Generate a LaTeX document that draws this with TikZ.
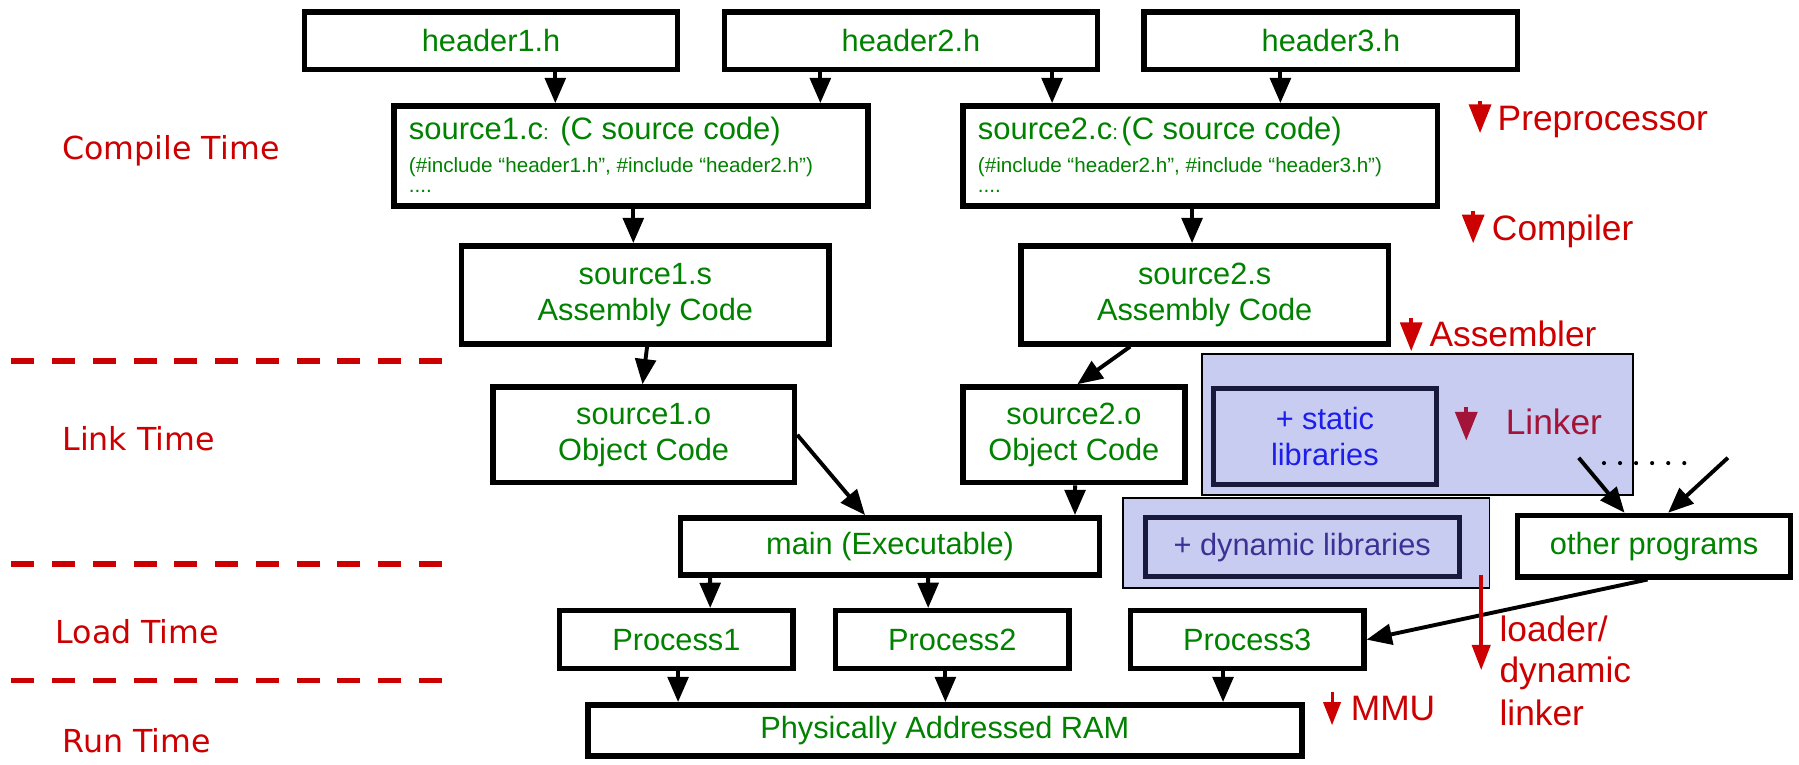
\documentclass[tikz,border=0pt]{standalone}
\usepackage{fontspec}
\setmainfont{Liberation Sans}
\newfontfamily\phasefont{DejaVu Sans}
\usetikzlibrary{arrows.meta}

\definecolor{codegreen}{RGB}{0,130,0}
\definecolor{phasered}{RGB}{204,0,0}
\definecolor{lavender}{RGB}{200,204,240}
\definecolor{staticblue}{RGB}{30,30,235}
\definecolor{dynblue}{RGB}{60,50,150}
\definecolor{libnavy}{RGB}{25,25,60}
\definecolor{linkercol}{RGB}{163,21,56}

\newcommand\bxfont{\fontsize{13.4}{15.8}\selectfont}
\newcommand\tagfont{\fontsize{15.4}{18}\selectfont}
\newcommand\smallcode{\fontsize{9}{10}\selectfont}

\begin{document}
\begin{tikzpicture}[x=0.5pt,y=-0.5pt,
  box/.style={draw=black, line width=2.4pt, fill=white, inner sep=0pt,
    text=codegreen, font=\bxfont, align=center},
  codeline/.style={anchor=base west, inner sep=0pt, text=codegreen},
  conn/.style={draw=black, line width=1.7pt, -{Triangle[length=11pt,width=9pt]}},
  redarrow/.style={draw=phasered, line width=1.7pt, -{Triangle[length=12.5pt,width=9.5pt]}},
  tag/.style={anchor=base west, inner sep=0pt, text=phasered, font=\tagfont},
  phase/.style={anchor=base west, inner sep=0pt, text=phasered,
    font=\phasefont\fontsize{13.8}{16}\selectfont},
  phaseline/.style={draw=phasered, line width=2.5pt, dash pattern=on 10pt off 7.75pt},
  libarea/.style={draw=black, line width=0.75pt, fill=lavender, inner sep=0pt},
  libbox/.style={draw=libnavy, line width=2.2pt, inner sep=0pt, font=\bxfont, align=center}]

\useasboundingbox (0,0) rectangle (1568,666);

% phase separators and phase names
\draw[phaseline] (10,314.7) -- (386,314.7);
\draw[phaseline] (10,491.6) -- (386,491.6);
\draw[phaseline] (10,593) -- (386,593);
\node[phase] (tcompile) at (54,138.6) {Compile Time};
\node[phase] (tlink) at (54,393) {Link Time};
\node[phase] (tload) at (48,561) {Load Time};
\node[phase] (trun) at (54,655.6) {Run Time};

% headers
\node[box, minimum width=162.7pt, minimum height=25.2pt] (h1) at (428,35.5) {header1.h};
\node[box, minimum width=162.7pt, minimum height=25.2pt] (h2) at (794,35.5) {header2.h};
\node[box, minimum width=162.7pt, minimum height=25.2pt] (h3) at (1160,35.5) {header3.h};

% C sources
\node[box, minimum width=206.7pt, minimum height=43.7pt] (s1c) at (550,136) {};
\node[box, minimum width=206.7pt, minimum height=43.7pt] (s2c) at (1046,136) {};
\node[codeline, font=\fontsize{13.5}{16}\selectfont] (s1c-a) at (356,122)
  {source1.c{\smallcode:} (C source code)};
\node[codeline, font=\smallcode] (s1c-b) at (356,150)
  {(\#include “header1.h”, \#include “header2.h”)};
\node[codeline, font=\smallcode] (s1c-c) at (356,168) {....};
\node[codeline, font=\fontsize{13.5}{16}\selectfont] (s2c-a) at (852,122)
  {source2.c{\smallcode:}\hspace{1.5pt}(C source code)};
\node[codeline, font=\smallcode] (s2c-b) at (852,150)
  {(\#include “header2.h”, \#include “header3.h”)};
\node[codeline, font=\smallcode] (s2c-c) at (852,168) {....};

% assembly and object files
\node[box, minimum width=160.2pt, minimum height=42.7pt] (s1s) at (562.5,257) {source1.s\\Assembly Code};
\node[box, minimum width=160.2pt, minimum height=42.7pt] (s2s) at (1050,257) {source2.s\\Assembly Code};
\node[box, minimum width=131.5pt, minimum height=41.7pt] (s1o) at (561,379) {source1.o\\Object Code};
\node[box, minimum width=96.7pt, minimum height=41.7pt] (s2o) at (936,379) {source2.o\\Object Code};

% libraries
\node[libarea, minimum width=159.75pt, minimum height=39.25pt] (dynarea) at (1138.5,473) {};
\node[libarea, minimum width=187.75pt, minimum height=61.25pt] (statarea) at (1235.5,370) {};
\node[libbox, text=staticblue, minimum width=97.05pt, minimum height=41.8pt] (slib) at (1154.75,380.5) {+ static\\libraries};
\node[libbox, text=dynblue, minimum width=136.8pt, minimum height=25.8pt] (dlib) at (1135,477) {+ dynamic libraries};

% executable, programs, processes, memory
\node[box, minimum width=182.45pt, minimum height=24.95pt] (main) at (775.75,476.25) {main (Executable)};
\node[box, minimum width=118.95pt, minimum height=26.7pt] (other) at (1441.75,476) {other programs};
\node[box, minimum width=101.7pt, minimum height=25.2pt] (p1) at (589.5,557.5) {Process1};
\node[box, minimum width=101.7pt, minimum height=25.2pt] (p2) at (830,557.5) {Process2};
\node[box, minimum width=101.7pt, minimum height=25.2pt] (p3) at (1087,557.5) {Process3};
\node[box, minimum width=311.2pt, minimum height=22.2pt] (ram) at (823.5,636.5) {Physically Addressed RAM};

% build flow
\draw[conn] ([xshift=28pt]h1.south) -- ([xshift=-33pt]s1c.north);
\draw[conn] ([xshift=-39.5pt]h2.south) -- ([xshift=82.5pt]s1c.north);
\draw[conn] ([xshift=61.5pt]h2.south) -- ([xshift=-64.5pt]s2c.north);
\draw[conn] ([xshift=-22pt]h3.south) -- ([xshift=35pt]s2c.north);
\draw[conn] ([xshift=1pt]s1c.south) -- ([xshift=-5.25pt]s1s.north);
\draw[conn] ([xshift=-3.5pt]s2c.south) -- ([xshift=-5.5pt]s2s.north);
\draw[conn] ([xshift=0.75pt]s1s.south) -- ([xshift=-0.5pt]s1o.north);
\draw[conn] ([xshift=-32.5pt]s2s.south) -- ([xshift=1.5pt]s2o.north);
\draw[conn] (s1o.east) -- ([xshift=-10.9pt]main.north);
\draw[conn] ([xshift=0.5pt]s2o.south) -- ([xshift=80.6pt]main.north);
\draw[conn] ([xshift=-78.4pt]main.south) -- ([xshift=14.75pt]p1.north);
\draw[conn] ([xshift=16.6pt]main.south) -- ([xshift=-10.5pt]p2.north);
\draw[conn] ([xshift=0.75pt]p1.south) -- ([xshift=-116.25pt]ram.north);
\draw[conn] ([xshift=-3pt]p2.south) -- ([xshift=0.25pt]ram.north);
\draw[conn] ([xshift=-10.5pt]p3.south) -- ([xshift=121.25pt]ram.north);
\draw[conn] ([xshift=-2.9pt]other.south) -- (p3.east);

% other programs fed by the linker
\coordinate (feed1) at (1376,399);
\coordinate (feed2) at (1506,399);
\draw[conn] (feed1) -- ([xshift=-12.9pt]other.north);
\draw[conn] (feed2) -- ([xshift=6.1pt]other.north);
\foreach \i in {0,...,5} \fill (1398+14*\i,403.6) circle (0.9pt);

% tool stages
\coordinate (pre-a) at (1290,88);   \coordinate (pre-b) at (1290,116);
\coordinate (cmp-a) at (1284,184);  \coordinate (cmp-b) at (1284,212);
\coordinate (asm-a) at (1230,277);  \coordinate (asm-b) at (1230,306);
\coordinate (lnk-a) at (1278,355);  \coordinate (lnk-b) at (1278,384);
\coordinate (mmu-a) at (1161,603);  \coordinate (mmu-b) at (1161,632);
\coordinate (ld-a) at (1291,501);   \coordinate (ld-b) at (1291,584);
\draw[redarrow] (pre-a) -- (pre-b);
\draw[redarrow] (cmp-a) -- (cmp-b);
\draw[redarrow] (asm-a) -- (asm-b);
\draw[redarrow, draw=linkercol] (lnk-a) -- (lnk-b);
\draw[redarrow, line width=1.3pt, -{Triangle[length=10pt,width=7.5pt]}] (mmu-a) -- (mmu-b);
\draw[redarrow, line width=1.5pt, -{Triangle[length=11pt,width=8pt]}] (ld-a) -- (ld-b);
\node[tag] (tpre) at (1305,114) {Preprocessor};
\node[tag] (tcmp) at (1300,210) {Compiler};
\node[tag] (tasm) at (1245.6,302) {Assembler};
\node[tag, text=linkercol] (tlnk) at (1312,379) {Linker};
\node[tag] (tmmu) at (1177,627.6) {MMU};
\node[tag] (tld1) at (1306.6,559.5) {loader/};
\node[tag] (tld2) at (1306.6,595) {dynamic};
\node[tag] (tld3) at (1306.6,632) {linker};

\end{tikzpicture}
\end{document}
